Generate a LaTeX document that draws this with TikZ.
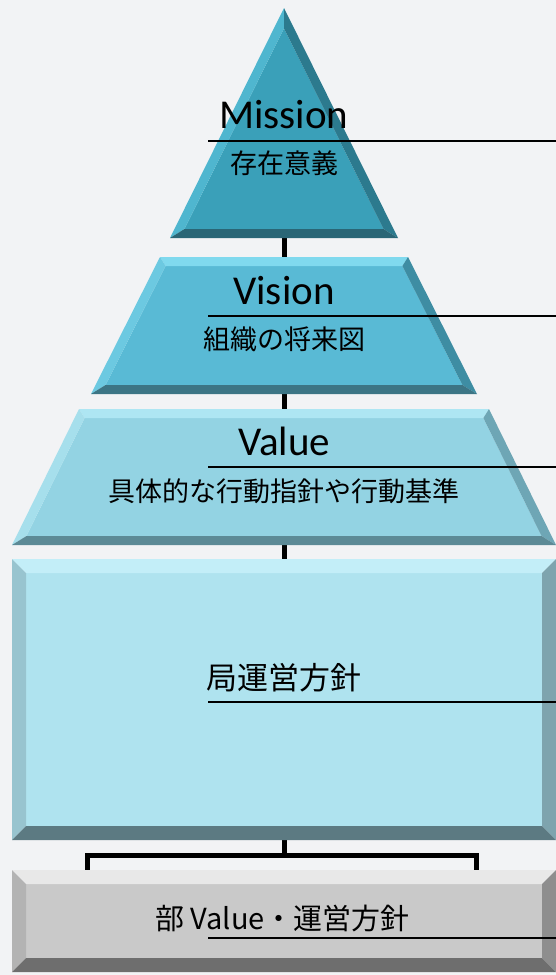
\documentclass[tikz,border=0pt]{standalone}
\usepackage{fontspec}
\setmainfont{Carlito}
\newfontfamily\jpfont{Noto Sans CJK JP}
\definecolor{bgc}{HTML}{F2F3F5}
% Mission
\definecolor{mBase}{HTML}{3AA0B9}
\definecolor{mLeft}{HTML}{4FB6CF}
\definecolor{mRight}{HTML}{2C7A8E}
\definecolor{mBot}{HTML}{2A6676}
% Vision
\definecolor{vBase}{HTML}{59BAD5}
\definecolor{vTop}{HTML}{80D9EE}
\definecolor{vLeft}{HTML}{6CC9E1}
\definecolor{vRight}{HTML}{3E8DA3}
\definecolor{vBot}{HTML}{3C7585}
% Value
\definecolor{aBase}{HTML}{93D3E3}
\definecolor{aTop}{HTML}{AEE6F3}
\definecolor{aLeft}{HTML}{A6DFEC}
\definecolor{aRight}{HTML}{6EA6B5}
\definecolor{aBot}{HTML}{5C8A96}
% Rect
\definecolor{rBase}{HTML}{AFE3EF}
\definecolor{rTop}{HTML}{C3EEF8}
\definecolor{rLeft}{HTML}{98C4CF}
\definecolor{rRight}{HTML}{7EA4AE}
\definecolor{rBot}{HTML}{5C7A82}
% Gray
\definecolor{gBase}{HTML}{C9C9C9}
\definecolor{gTop}{HTML}{E8E8E8}
\definecolor{gLeft}{HTML}{B3B3B3}
\definecolor{gRight}{HTML}{8E8E8E}
\definecolor{gBot}{HTML}{6E6E6E}
\newcommand\bevshape[6]{%
  \fill[#2] (#1-itl) -- (#1-itr) -- (#1-ibr) -- (#1-ibl) -- cycle;
  \fill[#3] (#1-otl) -- (#1-otr) -- (#1-itr) -- (#1-itl) -- cycle;
  \fill[#4] (#1-otl) -- (#1-itl) -- (#1-ibl) -- (#1-obl) -- cycle;
  \fill[#5] (#1-otr) -- (#1-obr) -- (#1-ibr) -- (#1-itr) -- cycle;
  \fill[#6] (#1-obl) -- (#1-ibl) -- (#1-ibr) -- (#1-obr) -- cycle;
}
\tikzset{
  conn/.style={draw=black, line width=5pt, line join=miter},
  uline/.style={draw=black, line width=1.8pt},
  latinlbl/.style={inner sep=0pt, anchor=base, font=\fontsize{41}{41}\selectfont},
  jplbl/.style={inner sep=0pt, anchor=base, font=\jpfont\fontsize{27}{27}\selectfont},
}
\begin{document}
\begin{tikzpicture}[x=1pt,y=-1pt]
\useasboundingbox (0,0) rectangle (556,975);
\fill[bgc] (0,0) rectangle (556,975);

% ---- named points
% Mission triangle
\coordinate (m-a) at (284,8);
\coordinate (m-bl) at (170,238);
\coordinate (m-br) at (398,238);
\coordinate (m-ia) at (284,28.3);
\coordinate (m-ibl) at (184.5,229);
\coordinate (m-ibr) at (383.5,229);
% Vision
\coordinate (v-otl) at (160,257);
\coordinate (v-otr) at (408,257);
\coordinate (v-obr) at (477,394);
\coordinate (v-obl) at (91,394);
\coordinate (v-itl) at (165.6,266);
\coordinate (v-itr) at (402.4,266);
\coordinate (v-ibr) at (462.4,385);
\coordinate (v-ibl) at (105.6,385);
% Value
\coordinate (a-otl) at (79,409);
\coordinate (a-otr) at (489,409);
\coordinate (a-obr) at (556,545);
\coordinate (a-obl) at (12,545);
\coordinate (a-itl) at (84.6,418);
\coordinate (a-itr) at (483.4,418);
\coordinate (a-ibr) at (541.5,536);
\coordinate (a-ibl) at (26.5,536);
% Rect
\coordinate (r-otl) at (12,559);
\coordinate (r-otr) at (556,559);
\coordinate (r-obr) at (556,840);
\coordinate (r-obl) at (12,840);
\coordinate (r-itl) at (26,573);
\coordinate (r-itr) at (542,573);
\coordinate (r-ibr) at (542,826);
\coordinate (r-ibl) at (26,826);
% Gray
\coordinate (g-otl) at (12,870);
\coordinate (g-otr) at (556,870);
\coordinate (g-obr) at (556,972);
\coordinate (g-obl) at (12,972);
\coordinate (g-itl) at (26,884);
\coordinate (g-itr) at (542,884);
\coordinate (g-ibr) at (542,958);
\coordinate (g-ibl) at (26,958);
% connector points
\coordinate (m-bc) at (284,236);
\coordinate (v-tc) at (284,259);
\coordinate (v-bc) at (284,392);
\coordinate (a-tc) at (284,411);
\coordinate (a-bc) at (284,543);
\coordinate (r-tc) at (284,561);
\coordinate (r-bc) at (284,838);
\coordinate (br-mid) at (284,855.5);
\coordinate (br-l) at (87.5,855.5);
\coordinate (br-r) at (476.5,855.5);
\coordinate (g-lc) at (87.5,872);
\coordinate (g-rc) at (476.5,872);

% ---- connectors (behind shapes)
\draw[conn] (m-bc) -- (v-tc);
\draw[conn] (v-bc) -- (a-tc);
\draw[conn] (a-bc) -- (r-tc);
\draw[conn] (r-bc) -- (br-mid);
\draw[conn] (g-lc) -- (br-l) -- (br-r) -- (g-rc);

% ---- shapes
% Mission triangle
\fill[mBase] (m-ia) -- (m-ibr) -- (m-ibl) -- cycle;
\fill[mLeft] (m-a) -- (m-ia) -- (m-ibl) -- (m-bl) -- cycle;
\fill[mRight] (m-a) -- (m-br) -- (m-ibr) -- (m-ia) -- cycle;
\fill[mBot] (m-bl) -- (m-ibl) -- (m-ibr) -- (m-br) -- cycle;

\bevshape{v}{vBase}{vTop}{vLeft}{vRight}{vBot}
\bevshape{a}{aBase}{aTop}{aLeft}{aRight}{aBot}
\bevshape{r}{rBase}{rTop}{rLeft}{rRight}{rBot}
\bevshape{g}{gBase}{gTop}{gLeft}{gRight}{gBot}

% ---- text underlines
\coordinate (u1a) at (208,141); \coordinate (u1b) at (556,141);
\coordinate (u2a) at (208,316); \coordinate (u2b) at (556,316);
\coordinate (u3a) at (208,467); \coordinate (u3b) at (556,467);
\coordinate (u4a) at (208,702); \coordinate (u4b) at (556,702);
\coordinate (u5a) at (208,938); \coordinate (u5b) at (556,938);
\draw[uline] (u1a) -- (u1b);
\draw[uline] (u2a) -- (u2b);
\draw[uline] (u3a) -- (u3b);
\draw[uline] (u4a) -- (u4b);
\draw[uline] (u5a) -- (u5b);

% ---- labels
\node[latinlbl] (t-mission) at (284,128) {Mission};
\node[jplbl] (t-mission-jp) at (284,173) {存在意義};
\node[latinlbl] (t-vision) at (284,304) {Vision};
\node[jplbl] (t-vision-jp) at (284,349) {組織の将来図};
\node[latinlbl] (t-value) at (284,455) {Value};
\node[jplbl] (t-value-jp) at (284,501) {具体的な行動指針や行動基準};
\node[jplbl, font=\jpfont\fontsize{31}{31}\selectfont] (t-kyoku) at (283.5,689) {局運営方針};
\node[jplbl, font=\jpfont\fontsize{29}{29}\selectfont] (t-bu) at (282.5,929) {部 Value・運営方針};
\end{tikzpicture}
\end{document}
